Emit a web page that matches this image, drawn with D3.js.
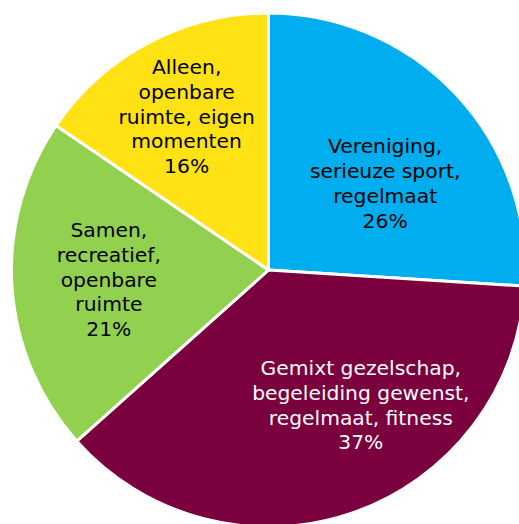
<!DOCTYPE html>
<html>
<head>
<meta charset="utf-8">
<script src="https://cdn.jsdelivr.net/npm/d3@7"></script>
<style>
  html, body { margin: 0; padding: 0; background: #ffffff; overflow: hidden; }
  svg { display: block; }
</style>
</head>
<body>
<svg id="chart" width="519" height="524"></svg>
<script>
// Data
const categories = [
  ["Vereniging,", "serieuze sport,", "regelmaat"],
  ["Gemixt gezelschap,", "begeleiding gewenst,", "regelmaat, fitness"],
  ["Samen,", "recreatief,", "openbare", "ruimte"],
  ["Alleen,", "openbare", "ruimte, eigen", "momenten"]
];
const values = [26.0, 37.4, 21.1, 15.5];
const percentLabels = ["26%", "37%", "21%", "16%"];
const colors = ["#00AEEF", "#7A003E", "#92D050", "#FFE214"];
const textColors = ["#000000", "#FFFFFF", "#000000", "#000000"];
// label nudges relative to the arc centroid (px)
const labelNudge = [[0, 23], [40, -16], [0, -1], [-7, -12]];

const width = 519, height = 524;
const cx = 268.5, cy = 270, R = 257;

const svg = d3.select("#chart");
const g = svg.append("g").attr("transform", `translate(${cx},${cy})`);

const pie = d3.pie().sort(null).value(d => d.v);
const data = values.map((v, i) => ({ v, i }));
const arcs = pie(data);

const arc = d3.arc().innerRadius(0).outerRadius(R);
const labelArc = d3.arc().innerRadius(160).outerRadius(160);

g.selectAll("path.slice")
  .data(arcs)
  .join("path")
  .attr("class", "slice")
  .attr("d", arc)
  .attr("fill", d => colors[d.data.i])
  .attr("stroke", "#ffffff")
  .attr("stroke-width", 3)
  .attr("stroke-linejoin", "round");

const lineH = 24.8;
g.selectAll("text.lbl")
  .data(arcs)
  .join("text")
  .attr("class", "lbl")
  .attr("font-family", "'DejaVu Sans', Verdana, sans-serif")
  .attr("font-size", 20.3)
  .attr("text-anchor", "middle")
  .attr("fill", d => textColors[d.data.i])
  .each(function (d) {
    const i = d.data.i;
    const [x, y] = labelArc.centroid(d);
    const lines = categories[i].concat([percentLabels[i]]);
    const n = lines.length;
    const x0 = x + labelNudge[i][0];
    const yc = y + labelNudge[i][1];
    const firstBaseline = yc - (n - 1) * lineH / 2 + 7;
    const t = d3.select(this);
    lines.forEach((ln, k) => {
      t.append("tspan")
        .attr("x", x0)
        .attr("y", firstBaseline + k * lineH)
        .text(ln);
    });
  });
</script>
</body>
</html>
